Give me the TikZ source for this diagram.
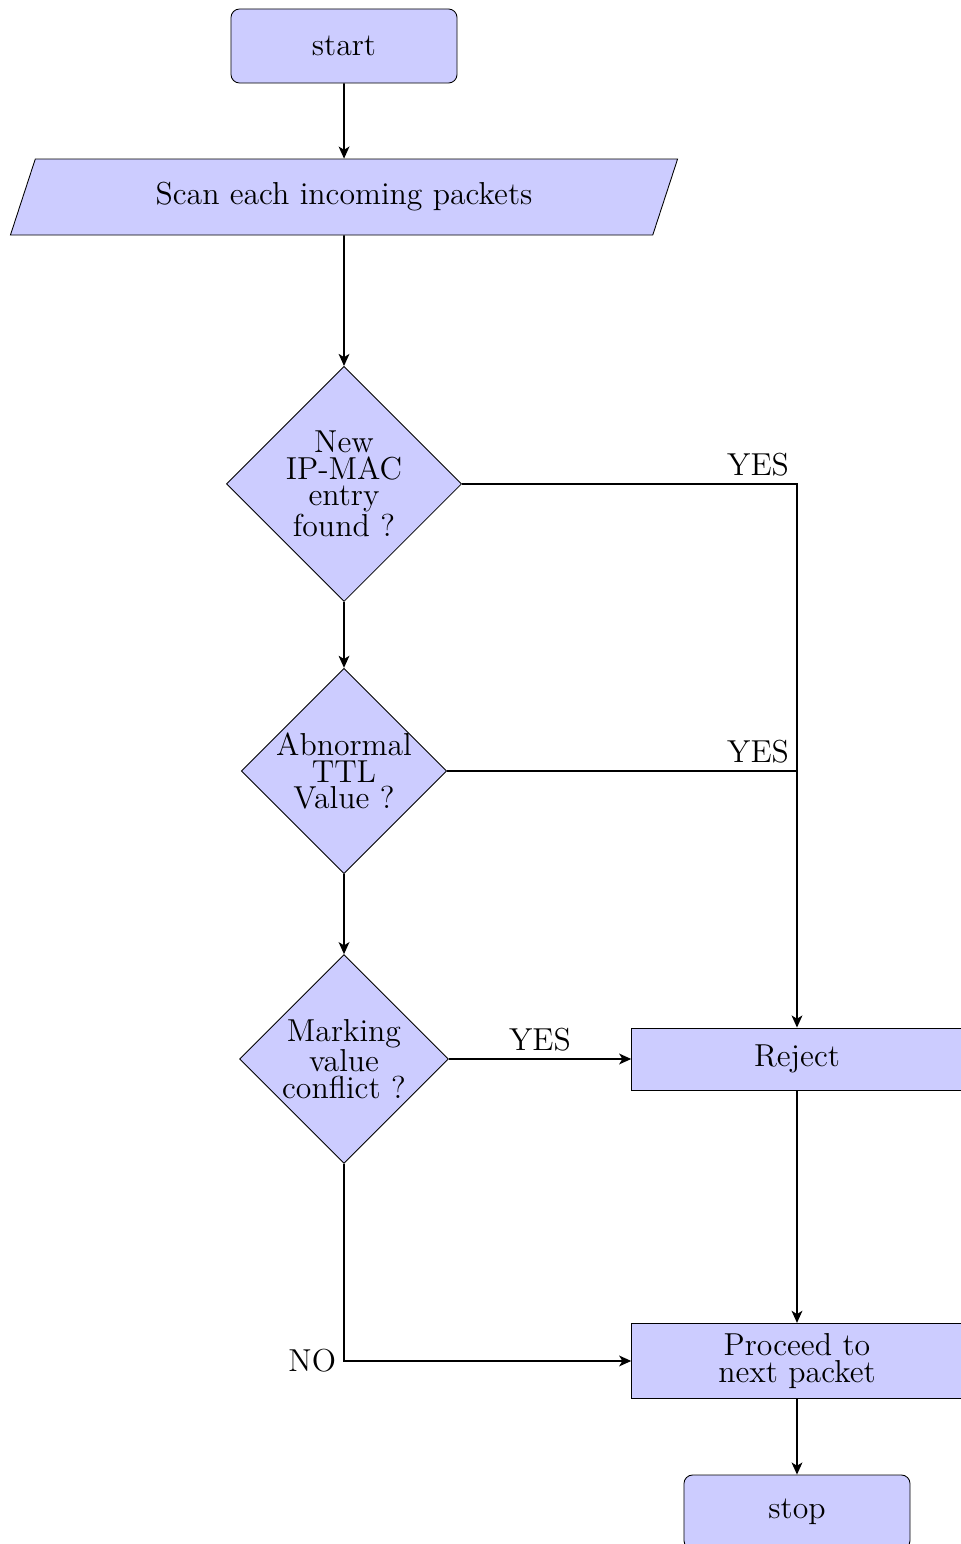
\documentclass[tikz,border=0pt]{standalone}
\usetikzlibrary{arrows.meta,shapes,positioning}

\newcommand{\nodefont}{\fontsize{14.75}{12.3}\selectfont}

\begin{document}
\begin{tikzpicture}[node distance=2.466cm,>={Stealth[length=5.6pt,width=5pt,inset=1.5pt]}]
    \tikzstyle{terminal}=[rectangle,draw,fill=blue!20,font=\nodefont,minimum width=105pt,minimum height=34.4pt,rounded corners]
    \tikzstyle{io}=[trapezium,trapezium left angle=70,trapezium right angle=110,trapezium stretches=true,draw,fill=blue!20,font=\nodefont,minimum width=310.7pt,minimum height=35.3pt]
    \tikzstyle{decision}=[diamond,draw,fill=blue!20,font=\nodefont,text width=66.4pt,align=center,inner sep=-1.6pt]
    \tikzstyle{block}=[rectangle,draw,fill=blue!20,font=\nodefont,text width=144pt,align=center,inner sep=4.8pt,minimum height=28.8pt]
    \tikzstyle{pre}=[<-,thick]
    \tikzstyle{line}=[draw,thick]

    \useasboundingbox (-5.616, 0.751) rectangle (10.056, -24.455);

    \begin{scope}
      \node [terminal] at (0, 0) (start) {start};
      \node [io] (scan) [below of=start] {Scan each incoming packets}
        edge [pre] (start);

      \node [decision] at (0, -7.15) (ipmac) {New\\ IP-MAC\\ entry\\ found ?}
        edge [pre] (scan);
      \node [decision] at (0, -11.836) (ttl) {Abnormal\\ TTL\\ Value ?}
        edge [pre] (ipmac);
      \node [decision] at (0, -16.537) (marking) {Marking\\ value\\ conflict ?}
        edge [pre] (ttl);

      \node [block] at (7.395, -16.537) (reject) {Reject}
        edge [pre] node [above, font=\nodefont] {YES} (marking);
      \node [block] at (7.395, -21.467) (proceed) {Proceed to\\ next packet}
        edge [pre] (reject);
      \node [terminal] (stop) [below of=proceed] {stop}
        edge [pre] (proceed);

      % yes branches join on the way down to reject
      \draw [line,->] (ipmac) -| node [pos=0.5, above left, font=\nodefont] {YES} (reject);
      \draw [line] (ttl) -- (ttl -| reject) node [above left, font=\nodefont] {YES};
      \draw [line,->] (marking) |- node [pos=0.5, left, font=\nodefont] {NO} (proceed);
    \end{scope}

\end{tikzpicture}
\end{document}
